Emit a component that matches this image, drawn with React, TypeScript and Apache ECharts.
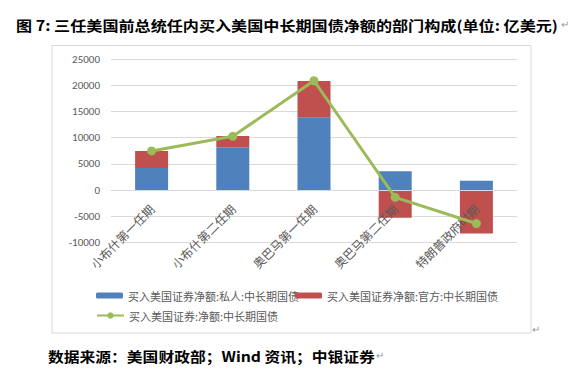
import React, { useEffect, useRef } from "react";
import * as echarts from "echarts";

const categories = ["小布什第一任期", "小布什第二任期", "奥巴马第一任期", "奥巴马第二任期", "特朗普政府时期"];
const privateValues = [4200, 8150, 13900, 3600, 1750];
const officialValues = [3250, 2150, 6900, -5300, -8300];
const netValues = [7450, 10250, 20850, -1400, -6400];
const seriesNames = [
  "买入美国证券净额:私人:中长期国债",
  "买入美国证券净额:官方:中长期国债",
  "买入美国证券:净额:中长期国债",
];
const titleText = "图 7: 三任美国前总统任内买入美国中长期国债净额的部门构成(单位: 亿美元)";
const sourceText = "数据来源：美国财政部；Wind 资讯；中银证券";

const CJK = '"Noto Sans CJK SC", "Noto Sans", sans-serif';

function measure(text: string, font: string): number {
  const c = document.createElement("canvas").getContext("2d");
  if (!c) return 1;
  c.font = font;
  return c.measureText(text).width || 1;
}

export default function App() {
  const ref = useRef<HTMLDivElement>(null);
  useEffect(() => {
    if (!ref.current) return;
    const chart = echarts.init(ref.current, null, { renderer: "svg" });
    const legendText = { color: "#595959", fontSize: 11, fontFamily: CJK };
    const titleFont = "bold 14px " + CJK;
    const titleScale = 542 / measure(titleText, titleFont);
    const srcFont = "bold 14px " + CJK;
    const srcScale = 327 / measure(sourceText, srcFont);
    chart.setOption({
      animation: false,
      backgroundColor: "#ffffff",
      graphic: [
        {
          type: "rect",
          shape: { x: 52, y: 45.5, width: 479, height: 287.5 },
          style: { fill: "none", stroke: "#d9d9d9", lineWidth: 1 },
          silent: true,
        },
        {
          type: "text",
          x: 16,
          y: 25,
          scaleX: titleScale,
          style: { text: titleText, font: titleFont, fill: "#000", verticalAlign: "middle" },
        },
        {
          type: "text",
          x: 48,
          y: 356,
          scaleX: srcScale,
          style: { text: sourceText, font: srcFont, fill: "#000", verticalAlign: "middle" },
        },
        { type: "text", x: 376, y: 350, style: { text: "↵", fontSize: 10, fill: "#999" } },
        { type: "text", x: 532, y: 324, style: { text: "↵", fontSize: 10, fill: "#999" } },
        { type: "text", x: 561, y: 19, style: { text: "↵", fontSize: 10, fill: "#999" } },
      ],
      legend: [
        {
          data: [seriesNames[0]],
          left: 96,
          top: 290,
          padding: 0,
          itemWidth: 27,
          itemHeight: 6,
          textStyle: legendText,
        },
        {
          data: [seriesNames[1]],
          left: 295,
          top: 290,
          padding: 0,
          itemWidth: 27,
          itemHeight: 6,
          textStyle: legendText,
        },
        {
          data: [seriesNames[2]],
          left: 96,
          top: 310,
          padding: 0,
          itemWidth: 27,
          itemHeight: 8,
          textStyle: legendText,
        },
      ],
      grid: { left: 111, right: 53, top: 59, bottom: 144.6, containLabel: false },
      xAxis: {
        type: "category",
        data: categories,
        z: 10,
        axisLine: { show: true, onZero: true, lineStyle: { color: "#d9d9d9" } },
        axisTick: { show: false },
        axisLabel: {
          rotate: 45,
          interval: 0,
          margin: -36,
          color: "#595959",
          fontSize: 12,
          fontFamily: '"Noto Sans CJK SC", serif',
        },
      },
      yAxis: {
        type: "value",
        min: -10000,
        max: 25000,
        interval: 5000,
        axisLine: { show: false },
        axisTick: { show: false },
        splitLine: { lineStyle: { color: "#d9d9d9", width: 1 } },
        axisLabel: {
          color: "#595959",
          fontSize: 11,
          margin: 11,
          fontFamily: "Carlito, 'Liberation Sans', sans-serif",
          formatter: (v: number) => String(v),
        },
      },
      series: [
        {
          name: seriesNames[0],
          type: "bar",
          stack: "total",
          data: privateValues,
          barWidth: 33,
          itemStyle: { color: "#4F81BD" },
        },
        {
          name: seriesNames[1],
          type: "bar",
          stack: "total",
          data: officialValues,
          barWidth: 33,
          itemStyle: { color: "#C0504D" },
        },
        {
          name: seriesNames[2],
          type: "line",
          data: netValues,
          symbol: "circle",
          symbolSize: 9,
          lineStyle: { color: "#9BBB59", width: 3 },
          itemStyle: { color: "#9BBB59" },
          z: 12,
        },
      ],
    });
    return () => chart.dispose();
  }, []);
  return (
    <div
      ref={ref}
      style={{ position: "fixed", left: 0, top: 0, width: 570, height: 387 }}
    />
  );
}
